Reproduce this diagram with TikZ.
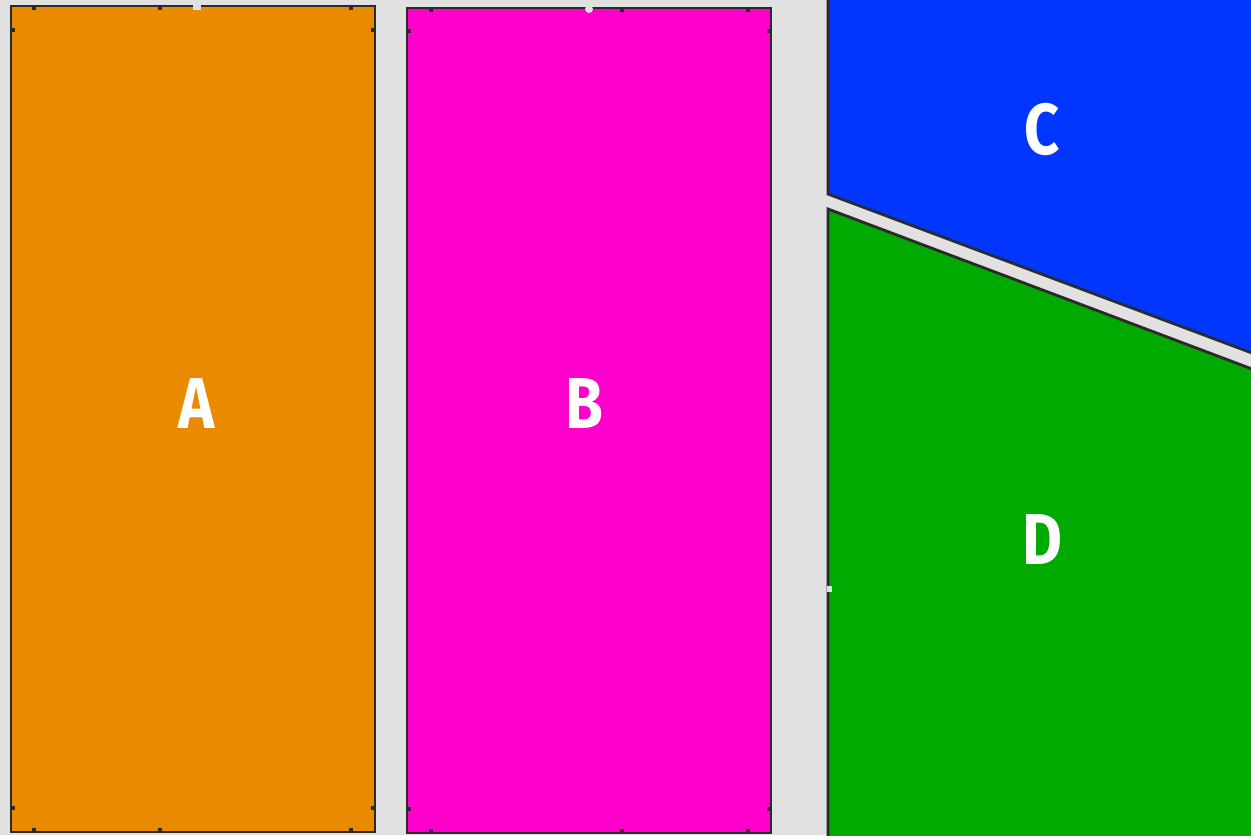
\documentclass[tikz,border=0pt]{standalone}
\usepackage{fontspec}
\setmainfont{Fira Sans}
\usepackage{tikz}
\definecolor{bgGrey}{HTML}{E1E1E1}
\definecolor{zoneA}{HTML}{E98A00}
\definecolor{zoneB}{HTML}{FF00CC}
\definecolor{zoneC}{HTML}{0036FF}
\definecolor{zoneD}{HTML}{00AA00}
\definecolor{edge}{HTML}{2A2A2A}
\begin{document}
\begin{tikzpicture}[x=0.01cm,y=-0.01cm,
	zone/.style={draw=edge,line width=0.8pt},
	tick/.style={draw=edge,line width=0.9pt},
	letter/.style={text=white,font=\bfseries\fontsize{20.5}{20.5}\selectfont,xscale=0.85,inner sep=0pt}]
				\fill[bgGrey] (0,0) rectangle (1251,835);
				\useasboundingbox (0,0) rectangle (1251,835);
				% four zones
				\draw[zone,fill=zoneA] (11,6) rectangle (375,832);
				\draw[zone,fill=zoneB] (407,8) rectangle (771,833);
				\draw[zone,fill=zoneC] (828,-5) -- (828,194) -- (1260,356) -- (1260,-5) -- cycle;
				\draw[zone,fill=zoneD] (828,845) -- (828,209) -- (1260,372) -- (1260,845) -- cycle;
				% small ticks
				\foreach \x in {34,160,351} {
					\draw[tick] (\x,6) -- (\x,10);
					\draw[tick] (\x,832) -- (\x,828);
				}
				\foreach \x in {431,622,748} {
					\draw[tick] (\x,8) -- (\x,12);
					\draw[tick] (\x,833) -- (\x,829);
				}
				\foreach \y in {30,808} {
					\draw[tick] (11,\y) -- (15,\y);
					\draw[tick] (375,\y) -- (371,\y);
					\draw[tick] (407,\y+1) -- (411,\y+1);
					\draw[tick] (771,\y+1) -- (767,\y+1);
				}
				% notches
				\fill[bgGrey] (193,5) rectangle (201,10);
				\fill[bgGrey] (589,9) circle (4);
				\fill[bgGrey] (827,586) rectangle (832,592);
				% labels
				\node[letter] (labA) at (197,404) {A};
				\node[letter] (labB) at (584,404) {B};
				\node[letter] (labC) at (1042,130) {C};
				\node[letter] (labD) at (1042,540) {D};
			\end{tikzpicture}
\end{document}
